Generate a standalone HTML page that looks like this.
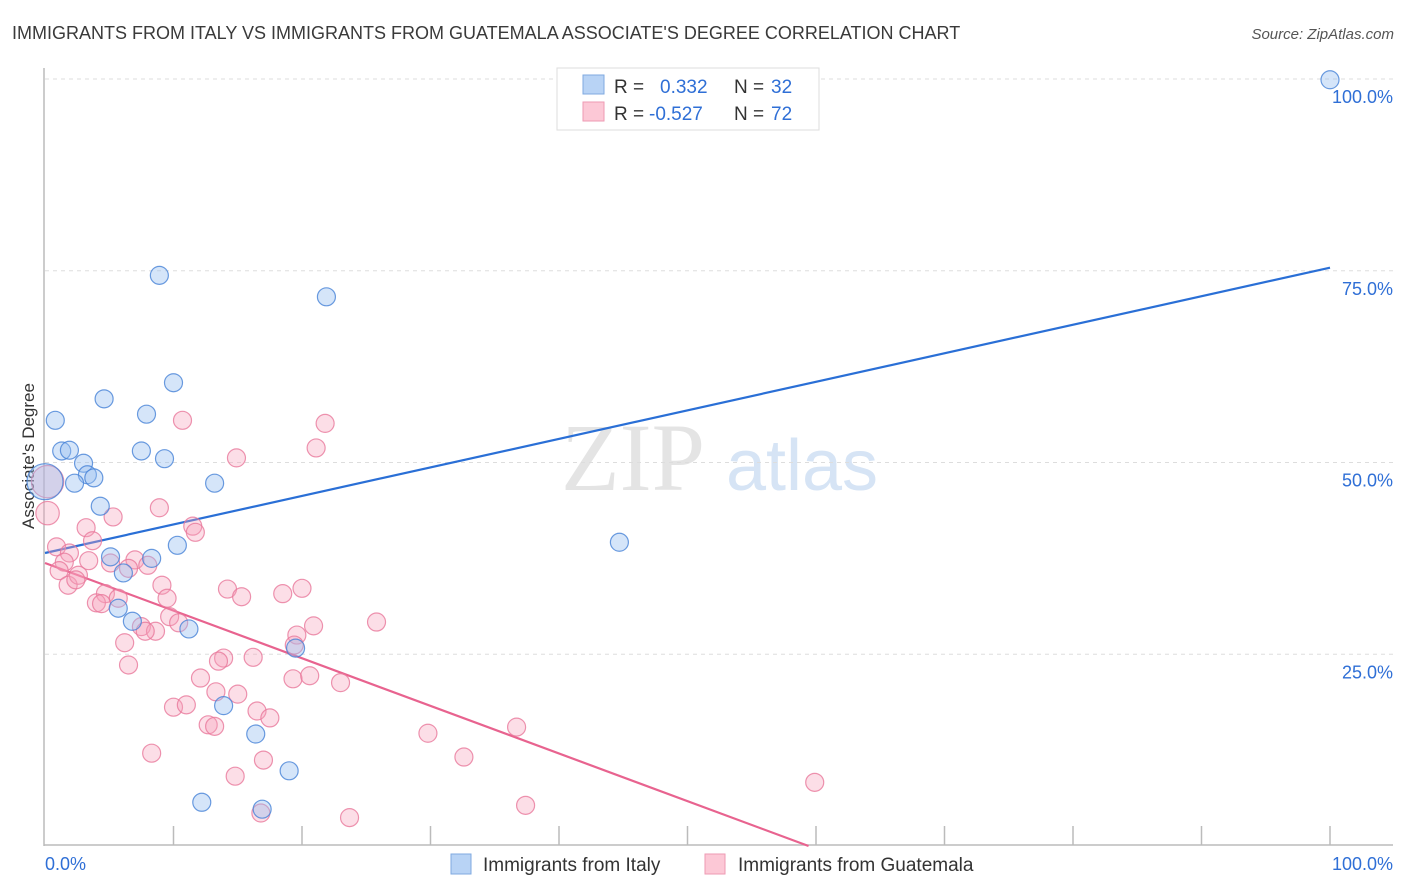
<!DOCTYPE html>
<html><head><meta charset="utf-8"><style>
body{margin:0;background:#fff;font-family:"Liberation Sans",sans-serif}
svg{display:block}
</style></head><body>
<svg id="chart" width="1406" height="892" viewBox="0 0 1406 892" xmlns="http://www.w3.org/2000/svg" font-family="Liberation Sans, sans-serif">
<text x="12" y="39" font-size="18" fill="#3a3a3a">IMMIGRANTS FROM ITALY VS IMMIGRANTS FROM GUATEMALA ASSOCIATE'S DEGREE CORRELATION CHART</text>
<text x="1394" y="39" font-size="15" fill="#555" font-style="italic" text-anchor="end">Source: ZipAtlas.com</text>
<text transform="translate(34,456) rotate(-90)" font-size="17" fill="#333" text-anchor="middle">Associate's Degree</text>
<g>
<text x="633" y="490" font-size="96" fill="#e4e4e4" font-family="Liberation Serif, serif" text-anchor="middle">ZIP</text>
<text x="802" y="490" font-size="72" fill="#d6e4f5" text-anchor="middle">atlas</text>
</g>
<g id="grid"></g>
<g id="axes"></g>
<g id="lines"></g>
<g id="points"></g>
<g>
<rect x="557" y="68" width="262" height="62" fill="#fff" stroke="#ddd"/>
<rect x="583" y="75" width="21" height="19" fill="#b8d3f5" stroke="#7fa9e0"/>
<rect x="583" y="102" width="21" height="19" fill="#fcc8d6" stroke="#ee9ab3"/>
<text x="614" y="93" font-size="19" fill="#333">R =</text>
<text x="660" y="93" font-size="19" fill="#2f6fd6">0.332</text>
<text x="734" y="93" font-size="19" fill="#333">N =</text>
<text x="771" y="93" font-size="19" fill="#2f6fd6">32</text>
<text x="614" y="120" font-size="19" fill="#333">R =</text>
<text x="649" y="120" font-size="19" fill="#2f6fd6">-0.527</text>
<text x="734" y="120" font-size="19" fill="#333">N =</text>
<text x="771" y="120" font-size="19" fill="#2f6fd6">72</text>
</g>
<g>
<rect x="451" y="854" width="20" height="20" fill="#b8d3f5" stroke="#7fa9e0"/>
<text x="483" y="871" font-size="19" fill="#333">Immigrants from Italy</text>
<rect x="705" y="854" width="20" height="20" fill="#fcc8d6" stroke="#ee9ab3"/>
<text x="738" y="871" font-size="19" fill="#333">Immigrants from Guatemala</text>
</g>
</svg>
<script>
const italyX=[100,8.9,21.9,10.0,4.6,0.8,7.9,1.3,1.9,7.5,9.3,3.0,3.3,3.8,2.3,13.2,4.3,10.3,44.7,5.1,8.3,6.1,5.7,6.8,11.2,19.5,13.9,16.4,19.0,12.2,16.9,0.0];
const italyY=[99.9,74.4,71.6,60.4,58.3,55.5,56.3,51.5,51.6,51.5,50.5,49.9,48.4,48.0,47.3,47.3,44.3,39.2,39.6,37.7,37.5,35.6,31.0,29.3,28.3,25.8,18.3,14.6,9.8,5.7,4.8,47.5];
const italySize=[1,1,1,1,1,1,1,1,1,1,1,1,1,1,1,1,1,1,1,1,1,1,1,1,1,1,1,1,1,1,1,2];
const guatX=[10.7,21.8,14.9,21.1,0.2,8.9,5.3,3.2,11.5,11.7,0.9,3.7,1.9,1.5,1.1,3.4,5.1,7.0,8.0,6.5,9.1,1.8,2.6,2.4,14.2,20.0,15.3,18.5,4.7,5.7,9.5,4.0,4.4,9.7,10.4,7.5,8.6,7.8,20.9,25.8,19.6,6.2,19.4,13.9,13.5,16.2,6.5,19.3,20.6,23.0,12.1,13.3,15.0,10.0,11.0,16.5,17.5,12.7,13.2,29.8,36.7,8.3,32.6,17.0,14.8,59.9,37.4,16.8,23.7,0.2];
const guatY=[55.5,55.1,50.6,51.9,43.4,44.1,42.9,41.5,41.7,40.9,39.0,39.8,38.2,37.0,35.9,37.2,36.9,37.3,36.6,36.2,34.0,34.0,35.3,34.7,33.5,33.6,32.5,32.9,32.9,32.3,32.3,31.7,31.6,29.9,29.1,28.6,28.0,28.0,28.7,29.2,27.5,26.5,26.2,24.5,24.1,24.6,23.6,21.8,22.2,21.3,21.9,20.1,19.8,18.1,18.4,17.6,16.7,15.8,15.6,14.7,15.5,12.1,11.6,11.2,9.1,8.3,5.3,4.3,3.7,47.5];
const guatSize=[1,1,1,1,1.3,1,1,1,1,1,1,1,1,1,1,1,1,1,1,1,1,1,1,1,1,1,1,1,1,1,1,1,1,1,1,1,1,1,1,1,1,1,1,1,1,1,1,1,1,1,1,1,1,1,1,1,1,1,1,1,1,1,1,1,1,1,1,1,1,1.8];
const trendIntercept=[38.2,36.9];
const trendSlope=[0.372,-0.621];
const yTicks=[25,50,75,100];
const yTickLabels=["25.0%","50.0%","75.0%","100.0%"];
const xTickVals=[0,10,20,30,40,50,60,70,80,90,100];
const xLabels=["0.0%","100.0%"];

const NS="http://www.w3.org/2000/svg";
const X0=45,X1=1330,Y0=846,Y1=79;
const sx=v=>X0+(X1-X0)*v/100;
const sy=v=>Y0-(Y0-Y1)*v/100;
function mk(tag,attrs,parent){const e=document.createElementNS(NS,tag);for(const k in attrs)e.setAttribute(k,attrs[k]);parent.appendChild(e);return e;}
const grid=document.getElementById('grid'),axes=document.getElementById('axes'),lines=document.getElementById('lines'),pts=document.getElementById('points');
yTicks.forEach((t,i)=>{
  const l=mk('line',{x1:45,x2:1393,y1:sy(t),y2:sy(t),stroke:'#ddd','stroke-dasharray':'4,4'},grid);
  
  
  const tx=mk('text',{x:1393,y:sy(t)+24,'font-size':18,fill:'#2f6fd6','text-anchor':'end'},axes);
  tx.textContent=yTickLabels[i];
  
  
});
const ya=mk('line',{x1:44,x2:44,y1:68,y2:846,stroke:'#bbb','stroke-width':1.5},axes);


const xa=mk('line',{x1:44,x2:1393,y1:845,y2:845,stroke:'#bbb','stroke-width':1.5},axes);


xTickVals.forEach(t=>{
  if(t===0)return;
  const l=mk('line',{x1:sx(t),x2:sx(t),y1:826,y2:845,stroke:'#bbb','stroke-width':1.5},axes);
  
  
});
const xl0=mk('text',{x:45,y:870,'font-size':18,fill:'#2f6fd6'},axes);xl0.textContent=xLabels[0];


const xl1=mk('text',{x:1393,y:870,'font-size':18,fill:'#2f6fd6','text-anchor':'end'},axes);xl1.textContent=xLabels[1];


function drawPts(xs,ys,ss,fill,stroke,name){
  xs.forEach((x,i)=>{
    const c=mk('circle',{cx:sx(x),cy:sy(ys[i]),r:9*ss[i],fill:fill,stroke:stroke,'stroke-width':1.2},pts);
    
    
  });
}
drawPts(guatX,guatY,guatSize,'rgba(247,160,187,0.35)','rgba(232,120,155,0.8)','guatemala');
drawPts(italyX,italyY,italySize,'rgba(150,190,240,0.4)','rgba(70,130,215,0.8)','italy');
// trend lines
const bx2=100;
const bl=mk('line',{x1:sx(0),y1:sy(trendIntercept[0]),x2:sx(bx2),y2:sy(trendIntercept[0]+trendSlope[0]*bx2),stroke:'#2a6fd6','stroke-width':2.2},lines);


const px2=-trendIntercept[1]/trendSlope[1];
const pl=mk('line',{x1:sx(0),y1:sy(trendIntercept[1]),x2:sx(px2),y2:sy(0),stroke:'#e8638f','stroke-width':2.2},lines);


</script>
</body></html>
